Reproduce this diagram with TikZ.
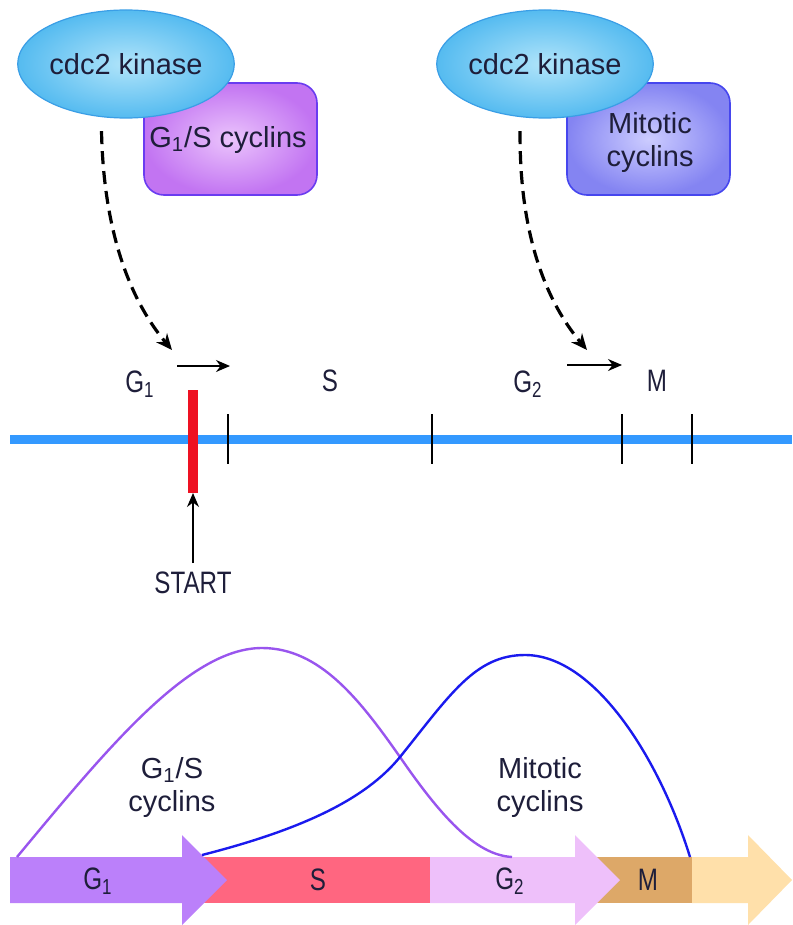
\documentclass[tikz,border=0pt]{standalone}
\usepackage{fontspec}
\setmainfont{Liberation Sans}
\newfontfamily\capfont{Liberation Sans}[FakeStretch=0.78]
\usetikzlibrary{arrows.meta,shapes.geometric}

\definecolor{inkcol}{HTML}{1E1E3A}
\definecolor{kinaseedge}{HTML}{3A9EE6}
\definecolor{kinaseout}{HTML}{55BBF0}
\definecolor{kinasein}{HTML}{B0E4FA}
\definecolor{gsedge}{HTML}{6A3CF0}
\definecolor{gsout}{HTML}{C274F2}
\definecolor{gsin}{HTML}{EBC4FC}
\definecolor{mitedge}{HTML}{4646EE}
\definecolor{mitout}{HTML}{8484F2}
\definecolor{mitin}{HTML}{CCCCFF}
\definecolor{axisblue}{HTML}{3399FF}
\definecolor{startred}{HTML}{EE1122}
\definecolor{phGone}{HTML}{BB80FA}
\definecolor{phS}{HTML}{FF6680}
\definecolor{phGtwo}{HTML}{EEC0FA}
\definecolor{phM}{HTML}{DDA868}
\definecolor{phNext}{HTML}{FFE0AA}
\definecolor{gscurve}{HTML}{9955EE}
\definecolor{mitcurve}{HTML}{1A1AEE}

\tikzset{
  txt/.style={text=inkcol, font=\fontsize{14.5}{16.5}\selectfont, align=center, inner sep=0pt},
  captxt/.style={text=inkcol, font=\capfont\fontsize{15.5}{17}\selectfont, inner sep=0pt},
  kinase/.style={ellipse, draw=kinaseedge, line width=0.6pt, inner color=kinasein, outer color=kinaseout,
    minimum width=104pt, minimum height=54pt, inner sep=0pt, txt},
  gsbox/.style={draw=gsedge, line width=0.8pt, rounded corners=10pt, inner color=gsin, outer color=gsout,
    minimum width=86.5pt, minimum height=56pt, inner sep=0pt, txt},
  mitbox/.style={draw=mitedge, line width=0.8pt, rounded corners=10pt, inner color=mitin, outer color=mitout,
    minimum width=81.5pt, minimum height=56pt, inner sep=0pt, txt},
  dasharrow/.style={line width=1.6pt, dash pattern=on 6.5pt off 3.5pt,
    -{Stealth[length=8pt,width=7pt]}},
  dirarrow/.style={line width=0.8pt, -{Stealth[length=7pt,width=6pt]}},
  tick/.style={line width=0.7pt, black},
  gscyc/.style={gscurve, line width=1.2pt},
  mitcyc/.style={mitcurve, line width=1.2pt},
}

\begin{document}
\begin{tikzpicture}[x=0.5pt,y=-0.5pt]
\useasboundingbox (0,0) rectangle (792,925);

% --- cyclin partners behind the kinase ellipses ---
\node[gsbox] (gs) at (230.5,139) {};
\node[txt] (gslabel) at (228,140) {G\textsubscript{1}/S cyclins};
\node[kinase] (k1) at (126,64) {cdc2 kinase};

\node[mitbox] (mit) at (648.5,139) {};
\node[txt] (mitlabel) at (650,143) {Mitotic\\cyclins};
\node[kinase] (k2) at (545,64) {cdc2 kinase};

% --- dashed activation arrows ---
\coordinate (t1) at (172,350);
\coordinate (t2) at (587,350);
\draw[dasharrow, shorten <=7pt] (k1.245) .. controls (104,250) and (140,312) .. (t1);
\draw[dasharrow, shorten <=7pt] (k2.245) .. controls (519,250) and (555,312) .. (t2);

% --- direction arrows ---
\coordinate (a1s) at (177,366);
\coordinate (a1e) at (230,366);
\coordinate (a2s) at (567,365);
\coordinate (a2e) at (622,365);
\draw[dirarrow] (a1s) -- (a1e);
\draw[dirarrow] (a2s) -- (a2e);

% --- cell cycle axis ---
\coordinate (axL) at (10,439);
\coordinate (axR) at (792,439);
\draw[axisblue, line width=4.5pt] (axL) -- (axR);
\foreach \tx in {228,432,622,692}
  \draw[tick] (\tx,414) -- (\tx,464);
\coordinate (redtop) at (193,390);
\coordinate (redbot) at (193,493);
\draw[startred, line width=5pt] (redtop) -- (redbot);

\node[captxt] (g1top) at (140,384) {G\textsubscript{1}};
\node[captxt] (stop) at (330,381) {S};
\node[captxt] (g2top) at (528,384) {G\textsubscript{2}};
\node[captxt] (mtop) at (657,381) {M};

\node[captxt, anchor=north] (start) at (193,571) {START};
\draw[dirarrow] (start.north) ++(0,-8) -- (redbot);

% --- phase bar ---
\fill[phS] (190,857) rectangle (430,903);
\fill[phGone] (10,857) -- (182,857) -- (182,835) -- (227,880) -- (182,925) -- (182,903) -- (10,903) -- cycle;
\fill[phM] (590,857) rectangle (692,903);
\fill[phGtwo] (430,857) -- (575,857) -- (575,835) -- (620,880) -- (575,925) -- (575,903) -- (430,903) -- cycle;
\fill[phNext] (692,857) -- (748,857) -- (748,835) -- (792,880) -- (748,925) -- (748,903) -- (692,903) -- cycle;

\node[captxt] (g1bar) at (98,881) {G\textsubscript{1}};
\node[captxt] (sbar) at (318,880) {S};
\node[captxt] (g2bar) at (510,881) {G\textsubscript{2}};
\node[captxt] (mbar) at (648,880) {M};

% --- cyclin level curves ---
\draw[gscyc] (17,857) .. controls (110,745) and (190,648) .. (262,648)
  .. controls (320,648) and (360,700) .. (400,757)
  .. controls (440,815) and (475,855) .. (512,857);
\draw[mitcyc] (202,855) .. controls (300,830) and (365,800) .. (400,757)
  .. controls (450,695) and (475,655) .. (525,655)
  .. controls (595,655) and (660,760) .. (690,857);

\node[txt] (gscurvelabel) at (172,787) {G\textsubscript{1}/S\\cyclins};
\node[txt] (mitcurvelabel) at (540,787) {Mitotic\\cyclins};
\end{tikzpicture}
\end{document}
